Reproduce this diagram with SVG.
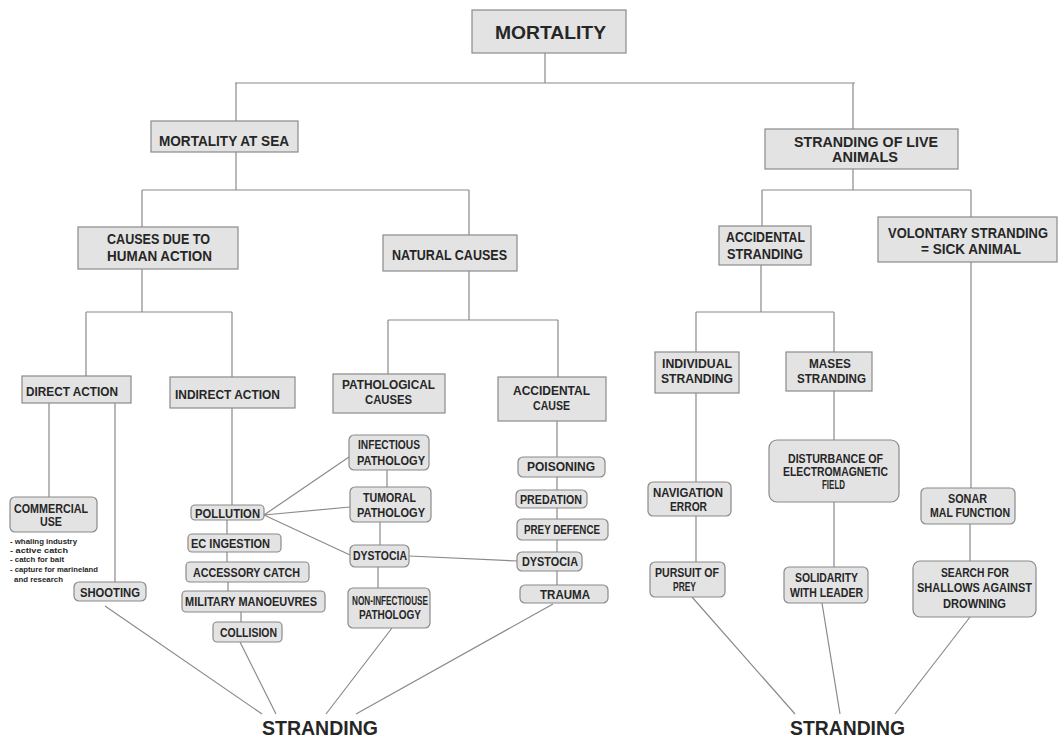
<svg xmlns="http://www.w3.org/2000/svg" width="1060" height="740" viewBox="0 0 1060 740">
<style>
.b{fill:#e3e3e3;stroke:#8a8a8a;stroke-width:1.2}
.c path{fill:none;stroke:#8a8a8a;stroke-width:1.2}
text{font-family:"Liberation Sans",Arial,sans-serif;font-weight:bold;fill:#262626}
.s15{font-size:15px}
.s14{font-size:14px}
.s13{font-size:13px}
.s12{font-size:12px}
.s7{font-size:7px}
.big{font-size:19px}
.st{font-size:21px}
</style>
<rect width="1060" height="740" fill="#ffffff"/>
<g class="c">
<path d="M545 53V83M235 83H855M236 83V121M853 83V129"/>
<path d="M236 152V190M142 190H469M142 190V227M469 190V235"/>
<path d="M142 269V312M86 312H232M86 312V376M232 312V377"/>
<path d="M49 403V497M115 403V582"/>
<path d="M232 408V505M227 520V534M227 552V562M228 582V591M241 612V622"/>
<path d="M469 271V320M388 320H558M388 320V374M558 320V377"/>
<path d="M557 421V457M557 477V490M557 508V519M557 540V552M557 571V585"/>
<path d="M387 470V487M380 522V545M378 567V588"/>
<path d="M264 515L349 457M264 515L350 507M264 515L350 555M409 556L518 561"/>
<path d="M853 169V190M762 190H971M762 190V226M971 190V217"/>
<path d="M761 265V312M696 312H834M696 312V352M834 312V352"/>
<path d="M696 393V482M696 516V562M834 391V440M834 502V567"/>
<path d="M971 262V488M970 524V561"/>
<path d="M105 606L262 714M240 642L276 714M392 628L326 714M553 604L356 714"/>
<path d="M692 597L795 714M822 603L840 714M970 617L895 714"/>
</g>
<g id="mortality"><rect class="b" x="472" y="10" width="154" height="43"/><text class="big" x="495" y="39" textLength="111" lengthAdjust="spacingAndGlyphs">MORTALITY</text></g>
<g id="mortality-at-sea"><rect class="b" x="151" y="121" width="147" height="31"/><text class="s15" x="159" y="146" textLength="130" lengthAdjust="spacingAndGlyphs">MORTALITY AT SEA</text></g>
<g id="causes-human"><rect class="b" x="78" y="227" width="160" height="42"/><text class="s15" x="107" y="244" textLength="103" lengthAdjust="spacingAndGlyphs">CAUSES DUE TO</text><text class="s15" x="107" y="261" textLength="105" lengthAdjust="spacingAndGlyphs">HUMAN ACTION</text></g>
<g id="natural-causes"><rect class="b" x="383" y="235" width="134" height="36"/><text class="s15" x="392" y="260" textLength="115" lengthAdjust="spacingAndGlyphs">NATURAL CAUSES</text></g>
<g id="stranding-live"><rect class="b" x="765" y="129" width="193" height="40"/><text class="s15" x="794" y="147" textLength="144" lengthAdjust="spacingAndGlyphs">STRANDING OF LIVE</text><text class="s15" x="832" y="162" textLength="66" lengthAdjust="spacingAndGlyphs">ANIMALS</text></g>
<g id="accidental-stranding"><rect class="b" x="719" y="226" width="92" height="39"/><text class="s15" x="726" y="242" textLength="79" lengthAdjust="spacingAndGlyphs">ACCIDENTAL</text><text class="s15" x="727" y="259" textLength="76" lengthAdjust="spacingAndGlyphs">STRANDING</text></g>
<g id="volontary"><rect class="b" x="878" y="217" width="179" height="45"/><text class="s14" x="888" y="238" textLength="160" lengthAdjust="spacingAndGlyphs">VOLONTARY STRANDING</text><text class="s14" x="921" y="254" textLength="100" lengthAdjust="spacingAndGlyphs">= SICK ANIMAL</text></g>
<g id="direct-action"><rect class="b" x="22" y="376" width="109" height="27"/><text class="s12" x="26" y="396" textLength="92" lengthAdjust="spacingAndGlyphs">DIRECT ACTION</text></g>
<g id="indirect-action"><rect class="b" x="170" y="377" width="125" height="31"/><text class="s13" x="175" y="399" textLength="105" lengthAdjust="spacingAndGlyphs">INDIRECT ACTION</text></g>
<g id="commercial-use"><rect class="b" x="10" y="497" width="87" height="35" rx="5"/><text class="s13" x="14" y="513" textLength="74" lengthAdjust="spacingAndGlyphs">COMMERCIAL</text><text class="s13" x="40" y="526" textLength="22" lengthAdjust="spacingAndGlyphs">USE</text>
<text class="s7" x="10" y="544" textLength="67" lengthAdjust="spacingAndGlyphs">- whaling industry</text>
<text class="s7" x="10" y="553" textLength="58" lengthAdjust="spacingAndGlyphs">- active catch</text>
<text class="s7" x="10" y="562" textLength="54" lengthAdjust="spacingAndGlyphs">- catch for bait</text>
<text class="s7" x="10" y="572" textLength="88" lengthAdjust="spacingAndGlyphs">- capture for marineland</text>
<text class="s7" x="14" y="582" textLength="49" lengthAdjust="spacingAndGlyphs">and research</text></g>
<g id="shooting"><rect class="b" x="74" y="582" width="72" height="19" rx="5"/><text class="s12" x="80" y="597" textLength="60" lengthAdjust="spacingAndGlyphs">SHOOTING</text></g>
<g id="pollution"><rect class="b" x="191" y="505" width="73" height="15" rx="4"/><text class="s12" x="195" y="518" textLength="65" lengthAdjust="spacingAndGlyphs">POLLUTION</text></g>
<g id="ec-ingestion"><rect class="b" x="188" y="534" width="93" height="18" rx="4"/><text class="s12" x="191" y="548" textLength="79" lengthAdjust="spacingAndGlyphs">EC INGESTION</text></g>
<g id="accessory-catch"><rect class="b" x="186" y="562" width="123" height="20" rx="4"/><text class="s12" x="193" y="577" textLength="107" lengthAdjust="spacingAndGlyphs">ACCESSORY CATCH</text></g>
<g id="military"><rect class="b" x="182" y="591" width="143" height="21" rx="4"/><text class="s12" x="185" y="606" textLength="132" lengthAdjust="spacingAndGlyphs">MILITARY MANOEUVRES</text></g>
<g id="collision"><rect class="b" x="213" y="622" width="69" height="20" rx="4"/><text class="s12" x="220" y="637" textLength="57" lengthAdjust="spacingAndGlyphs">COLLISION</text></g>
<g id="pathological-causes"><rect class="b" x="333" y="374" width="112" height="39"/><text class="s13" x="342" y="389" textLength="93" lengthAdjust="spacingAndGlyphs">PATHOLOGICAL</text><text class="s13" x="365" y="404" textLength="47" lengthAdjust="spacingAndGlyphs">CAUSES</text></g>
<g id="infectious"><rect class="b" x="349" y="435" width="80" height="35" rx="5"/><text class="s13" x="358" y="449" textLength="62" lengthAdjust="spacingAndGlyphs">INFECTIOUS</text><text class="s13" x="357" y="465" textLength="68" lengthAdjust="spacingAndGlyphs">PATHOLOGY</text></g>
<g id="tumoral"><rect class="b" x="350" y="487" width="81" height="35" rx="5"/><text class="s13" x="363" y="502" textLength="53" lengthAdjust="spacingAndGlyphs">TUMORAL</text><text class="s13" x="357" y="517" textLength="68" lengthAdjust="spacingAndGlyphs">PATHOLOGY</text></g>
<g id="dystocia-1"><rect class="b" x="350" y="545" width="59" height="22" rx="5"/><text class="s12" x="353" y="560" textLength="54" lengthAdjust="spacingAndGlyphs">DYSTOCIA</text></g>
<g id="non-infectious"><rect class="b" x="348" y="588" width="82" height="40" rx="5"/><text class="s13" x="352" y="605" textLength="76" lengthAdjust="spacingAndGlyphs">NON-INFECTIOUSE</text><text class="s13" x="359" y="619" textLength="62" lengthAdjust="spacingAndGlyphs">PATHOLOGY</text></g>
<g id="accidental-cause"><rect class="b" x="498" y="377" width="108" height="44"/><text class="s13" x="513" y="395" textLength="77" lengthAdjust="spacingAndGlyphs">ACCIDENTAL</text><text class="s13" x="533" y="410" textLength="37" lengthAdjust="spacingAndGlyphs">CAUSE</text></g>
<g id="poisoning"><rect class="b" x="518" y="457" width="87" height="20" rx="5"/><text class="s12" x="527" y="471" textLength="68" lengthAdjust="spacingAndGlyphs">POISONING</text></g>
<g id="predation"><rect class="b" x="516" y="490" width="71" height="18" rx="5"/><text class="s12" x="520" y="504" textLength="62" lengthAdjust="spacingAndGlyphs">PREDATION</text></g>
<g id="prey-defence"><rect class="b" x="517" y="519" width="91" height="21" rx="5"/><text class="s12" x="524" y="534" textLength="76" lengthAdjust="spacingAndGlyphs">PREY DEFENCE</text></g>
<g id="dystocia-2"><rect class="b" x="517" y="552" width="65" height="19" rx="5"/><text class="s12" x="522" y="566" textLength="56" lengthAdjust="spacingAndGlyphs">DYSTOCIA</text></g>
<g id="trauma"><rect class="b" x="520" y="585" width="88" height="18" rx="5"/><text class="s12" x="540" y="599" textLength="50" lengthAdjust="spacingAndGlyphs">TRAUMA</text></g>
<g id="individual-stranding"><rect class="b" x="655" y="352" width="84" height="41"/><text class="s13" x="662" y="368" textLength="70" lengthAdjust="spacingAndGlyphs">INDIVIDUAL</text><text class="s13" x="661" y="383" textLength="72" lengthAdjust="spacingAndGlyphs">STRANDING</text></g>
<g id="mases-stranding"><rect class="b" x="786" y="352" width="86" height="39"/><text class="s13" x="809" y="368" textLength="42" lengthAdjust="spacingAndGlyphs">MASES</text><text class="s13" x="797" y="383" textLength="69" lengthAdjust="spacingAndGlyphs">STRANDING</text></g>
<g id="disturbance"><rect class="b" x="769" y="440" width="130" height="62" rx="8"/><text class="s13" x="788" y="463" textLength="95" lengthAdjust="spacingAndGlyphs">DISTURBANCE OF</text><text class="s13" x="783" y="476" textLength="105" lengthAdjust="spacingAndGlyphs">ELECTROMAGNETIC</text><text class="s13" x="822" y="489" textLength="23" lengthAdjust="spacingAndGlyphs">FIELD</text></g>
<g id="navigation-error"><rect class="b" x="648" y="482" width="83" height="34" rx="5"/><text class="s12" x="653" y="497" textLength="70" lengthAdjust="spacingAndGlyphs">NAVIGATION</text><text class="s12" x="670" y="511" textLength="37" lengthAdjust="spacingAndGlyphs">ERROR</text></g>
<g id="pursuit"><rect class="b" x="650" y="562" width="75" height="35" rx="5"/><text class="s12" x="655" y="577" textLength="64" lengthAdjust="spacingAndGlyphs">PURSUIT OF</text><text class="s12" x="673" y="591" textLength="23" lengthAdjust="spacingAndGlyphs">PREY</text></g>
<g id="solidarity"><rect class="b" x="784" y="567" width="84" height="36" rx="5"/><text class="s12" x="795" y="582" textLength="63" lengthAdjust="spacingAndGlyphs">SOLIDARITY</text><text class="s12" x="790" y="597" textLength="73" lengthAdjust="spacingAndGlyphs">WITH LEADER</text></g>
<g id="sonar"><rect class="b" x="921" y="488" width="94" height="36" rx="5"/><text class="s12" x="948" y="503" textLength="39" lengthAdjust="spacingAndGlyphs">SONAR</text><text class="s12" x="930" y="517" textLength="80" lengthAdjust="spacingAndGlyphs">MAL FUNCTION</text></g>
<g id="search-shallows"><rect class="b" x="913" y="561" width="123" height="56" rx="7"/><text class="s12" x="941" y="577" textLength="68" lengthAdjust="spacingAndGlyphs">SEARCH FOR</text><text class="s12" x="917" y="592" textLength="115" lengthAdjust="spacingAndGlyphs">SHALLOWS AGAINST</text><text class="s12" x="943" y="608" textLength="63" lengthAdjust="spacingAndGlyphs">DROWNING</text></g>
<g id="stranding-left"><text class="st" x="262" y="735" textLength="116" lengthAdjust="spacingAndGlyphs">STRANDING</text></g>
<g id="stranding-right"><text class="st" x="790" y="735" textLength="115" lengthAdjust="spacingAndGlyphs">STRANDING</text></g>
</svg>
